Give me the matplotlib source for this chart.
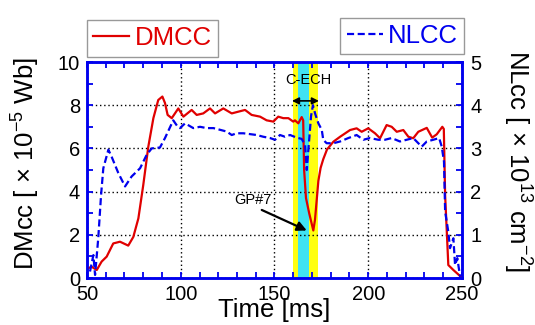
import numpy as np
import matplotlib
matplotlib.use('Agg')
import matplotlib.pyplot as plt
from matplotlib.ticker import MultipleLocator

plt.rcParams['font.family'] = ['Liberation Sans', 'DejaVu Sans']
plt.rcParams['mathtext.fontset'] = 'custom'
plt.rcParams['mathtext.rm'] = 'Liberation Sans'
plt.rcParams['mathtext.it'] = 'Liberation Sans:italic'

# DMCC (left axis, x 1e-5 Wb)
t_dm = [50.5, 52.5, 55.2, 57.8, 60.5, 64.0, 67.6, 72.0, 74.7, 77.4, 80.0, 82.7,
        85.4, 88.0, 90.2, 91.6, 93.0, 95.2, 98.7, 101.4, 105.8, 108.5, 112.0,
        115.6, 118.3, 122.7, 127.2, 130.7, 134.3, 137.8, 142.3, 145.8, 149.4,
        152.0, 154.7, 157.4, 160.0, 160.9, 162.7, 164.5, 165.3, 165.8, 166.8,
        168.5, 170.7, 171.6, 172.5, 173.4, 174.6, 176.0, 178.0, 181.4, 185.0,
        190.3, 193.8, 196.5, 200.0, 203.6, 206.3, 209.8, 212.5, 215.2, 218.7,
        221.4, 224.0, 226.7, 231.2, 234.1, 236.5, 239.5, 240.3, 241.0, 242.7,
        245.4, 249.5]
dmcc = [0.45, 0.52, 0.37, 0.76, 0.99, 1.6, 1.68, 1.5, 1.9, 2.76, 4.3, 6.08,
        7.4, 8.24, 8.4, 8.1, 7.55, 7.4, 7.85, 7.47, 7.78, 7.55, 7.62,
        7.85, 7.62, 7.85, 7.62, 7.7, 7.78, 7.55, 7.47, 7.3, 7.24,
        7.47, 7.4, 7.4, 7.24, 7.3, 7.16, 7.45, 7.3, 5.0, 3.7,
        3.0, 2.2, 2.7, 3.6, 4.5, 5.1, 5.5, 5.95, 6.31, 6.54,
        6.85, 6.93, 6.77, 6.93, 6.7, 6.47, 7.08, 7.0, 6.77, 6.85,
        6.54, 6.47, 6.77, 6.95, 6.5, 6.65, 7.0, 6.9, 3.84, 0.6,
        0.37, 0.05]

# NLCC (right axis, x 1e13 cm^-2)
t_nl = [51.6, 53.4, 54.3, 56.0, 57.5, 58.7, 61.4, 63.2, 66.7, 70.3, 73.8, 78.3,
        81.8, 84.5, 88.9, 91.6, 96.0, 98.4, 99.6, 102.3, 106.7, 110.3, 113.8,
        117.4, 121.0, 124.5, 127.2, 129.8, 133.4, 137.0, 140.5, 144.0, 147.6,
        150.3, 152.9, 155.6, 158.3, 161.8, 164.5, 166.3, 167.2, 168.5, 169.5,
        170.5, 171.7, 173.4, 175.2, 176.0, 177.8, 181.4, 185.0, 189.4, 193.8,
        197.4, 200.9, 205.4, 208.9, 212.5, 216.9, 220.5, 224.0, 228.5, 231.2,
        234.7, 237.8, 239.2, 240.4, 241.0, 242.7, 243.6, 245.4, 246.3, 247.5,
        249.0]
nlcc = [0.15, 0.53, 0.07, 0.92, 1.92, 2.54, 2.97, 2.8, 2.43, 2.12, 2.35, 2.54,
        2.85, 3.0, 3.02, 3.24, 3.65, 3.5, 3.47, 3.58, 3.47, 3.5, 3.47,
        3.47, 3.43, 3.39, 3.31, 3.35, 3.35, 3.33, 3.31, 3.27, 3.24,
        3.2, 3.31, 3.27, 3.31, 3.25, 3.22, 3.08, 2.5, 3.2, 3.75,
        4.0, 3.8, 3.58, 3.43, 3.2, 3.12, 3.12, 3.16, 3.24, 3.31,
        3.2, 3.24, 3.2, 3.2, 3.24, 3.16, 3.2, 3.24, 3.04, 3.16,
        3.2, 3.24, 3.04, 2.69, 1.54, 1.07, 0.69, 0.92, 0.3, 0.46,
        0.03]

ech_outer = (160.0, 173.0)
ech_inner = (162.5, 168.3)

blue = '#0000ee'
red = '#e00000'

fig = plt.figure(figsize=(5.35, 3.25), dpi=100)
ax = fig.add_axes([87 / 535, 47 / 325, 375 / 535, 216 / 325])
tw = ax.twinx()

ax.axvspan(*ech_outer, color='#ffff10', lw=0, zorder=0.2)
ax.axvspan(*ech_inner, color='#40e2f2', lw=0, zorder=0.3)

ax.plot(t_dm, dmcc, color=red, lw=1.6, label='DMCC', zorder=3)
tw.plot(t_nl, nlcc, color=blue, lw=1.6, ls=(0, (3.2, 1.6)), label='NLCC', zorder=3)

ax.set_xlim(50, 250)
ax.set_ylim(0, 10)
tw.set_ylim(0, 5)
ax.xaxis.set_major_locator(MultipleLocator(50))
ax.xaxis.set_minor_locator(MultipleLocator(10))
ax.yaxis.set_major_locator(MultipleLocator(2))
ax.yaxis.set_minor_locator(MultipleLocator(1))
tw.yaxis.set_major_locator(MultipleLocator(1))
tw.yaxis.set_minor_locator(MultipleLocator(0.5))

ax.grid(True, which='major', color='black', ls=(0, (1, 2)), lw=1.0, zorder=0.5)
ax.set_axisbelow(True)

for a in (ax, tw):
    for s in a.spines.values():
        s.set_color(blue)
        s.set_linewidth(1.8)
ax.tick_params(which='both', direction='in', color=blue, width=1.3, length=4,
               top=True, bottom=True, left=True, right=False, labelsize=14.5)
ax.tick_params(axis='x', pad=5)
ax.tick_params(axis='y', pad=5)
tw.tick_params(which='both', direction='in', color=blue, width=1.3, length=4,
               labelsize=14.5, pad=6)

ax.set_xlabel('Time [ms]', fontsize=18.5, labelpad=-4)
ax.set_ylabel('DMcc [ × 10$^{-5}$ Wb]', fontsize=18.5, va='center', ha='center')
ax.yaxis.set_label_coords(-0.163, 0.53)
tw.set_ylabel('NLcc [ × 10$^{13}$ cm$^{-2}$]', fontsize=18.5, rotation=-90,
              va='center', ha='center')
tw.yaxis.set_label_coords(1.148, 0.54)

# annotations
ax.text(167.9, 9.17, 'C-ECH', fontsize=10.5, ha='center', va='center', zorder=5)
ax.annotate('', xy=(159.3, 8.2), xytext=(173.7, 8.2),
            arrowprops=dict(arrowstyle='<|-|>', color='black', lw=1.2,
                            mutation_scale=10, shrinkA=0, shrinkB=0), zorder=5)
ax.text(138.7, 3.6, 'GP#7', fontsize=10.5, ha='center', va='center', zorder=5)
ax.annotate('', xy=(167.2, 2.2), xytext=(143.2, 3.15),
            arrowprops=dict(arrowstyle='-|>', color='black', lw=1.6,
                            mutation_scale=14, shrinkA=0, shrinkB=0), zorder=5)

leg_kw = dict(fontsize=18.5, fancybox=False, framealpha=1, edgecolor='#999999',
              handlelength=1.4, handletextpad=0.2, borderpad=0.25, borderaxespad=0)
l1 = ax.legend(loc='lower left', bbox_to_anchor=(0.0, 1.025), **leg_kw)
l1.get_frame().set_linewidth(1.0)
l2 = tw.legend(loc='lower right', bbox_to_anchor=(1.006, 1.035), **leg_kw)
l2.get_frame().set_linewidth(1.0)
for t in l1.get_texts():
    t.set_color(red)
for t in l2.get_texts():
    t.set_color(blue)

fig.savefig('out.png', dpi=100)
